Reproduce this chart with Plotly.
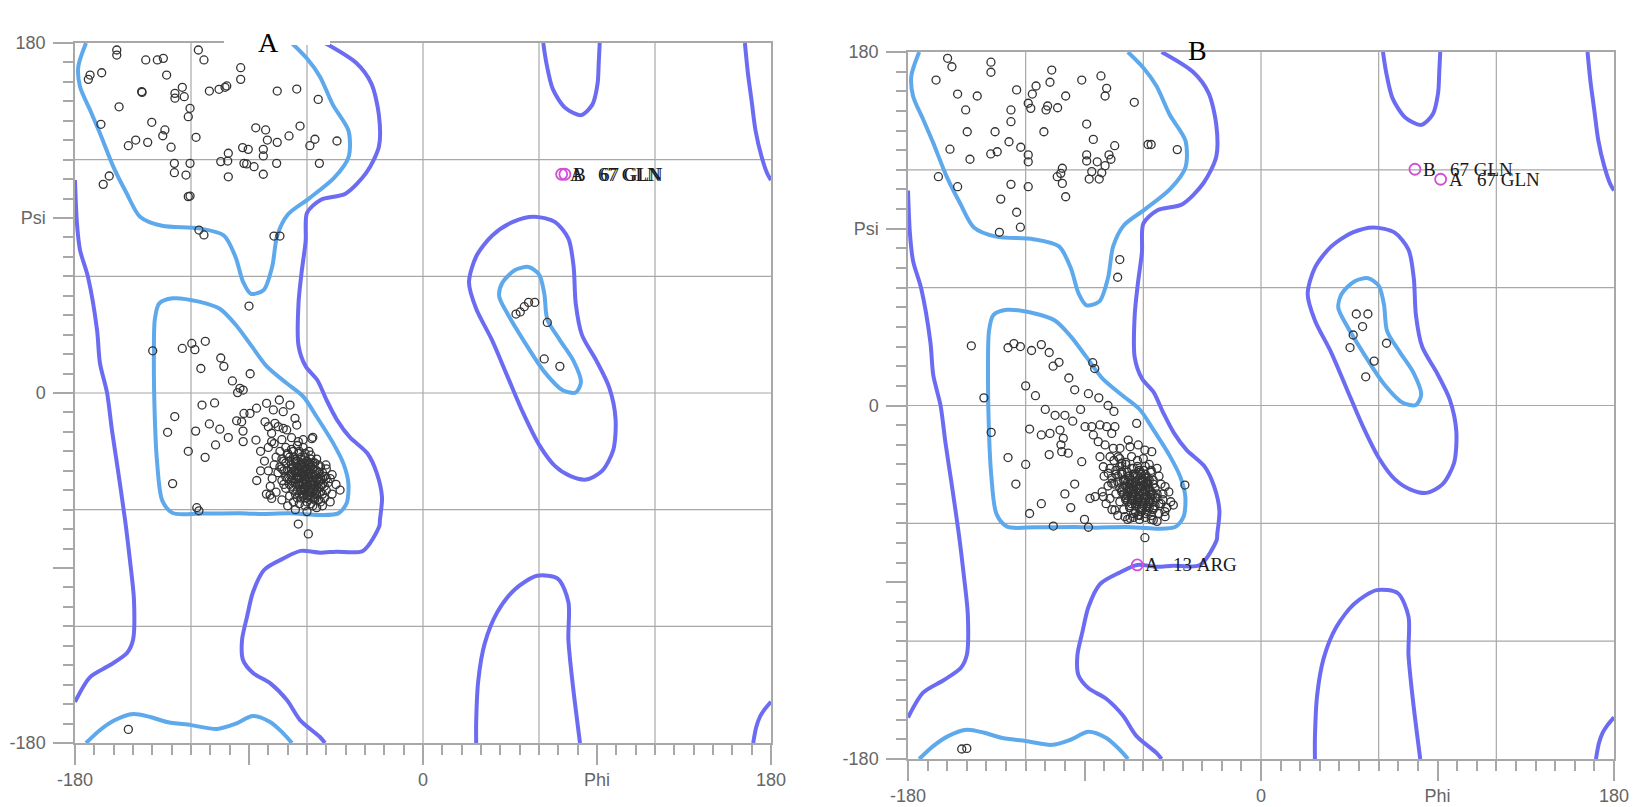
import plotly.graph_objects as go

# ---------------- contour data (phi, psi) ----------------
lb_beta_phi = [-174.3, -178.3, -177.4, -172.2, -167.1, -160.2, -153.3, -146.4, -135, -116, -103, -97, -93, -89, -82.4, -78, -75.4, -70, -59, -46, -38.5, -38.5, -46.6, -53.3, -60, -67.9]
lb_beta_psi = [180, 167.8, 157.5, 145.5, 133.6, 116.4, 102.7, 90.7, 86, 84.7, 81, 70, 57, 51, 53, 65, 81, 91.7, 100, 110.6, 121.3, 134.8, 148.2, 162.7, 172, 180]

lb_bot_phi = [-174.3, -167, -159.3, -150, -141.2, -132.4, -120, -106.6, -97.2, -88, -79.1, -72.4, -67.8]
lb_bot_psi = [-180, -173.3, -168.2, -165.1, -166.6, -169.2, -170.8, -172.8, -170.2, -166.1, -169.2, -174.9, -180]

lb_alpha_phi = [-136.5, -129.5, -115.9, -105.1, -97, -88.9, -80.8, -70.5, -61.9, -55, -46.4, -41.2, -38.6, -39.5, -43.8, -53.3, -68.8, -84.3, -94.7, -115, -129.5, -134.9, -137.6, -138.7, -139.2, -138.7, -136.5]
lb_alpha_psi = [46, 48.7, 47, 43.3, 35.2, 24.5, 13.7, 5, -1.9, -12.2, -25.9, -36.2, -46.4, -56.7, -61.9, -62.7, -61.9, -62.2, -61.9, -62, -61.7, -55.2, -34.8, -13.3, 19, 37.9, 46]

lb_left_phi = [41.1, 47.6, 54.6, 60, 62.7, 64.3, 70.8, 77.9, 81.7, 79, 72.5, 62.7, 51.9, 43.8, 39.4, 41.1]
lb_left_psi = [56.8, 63.2, 64.8, 61, 51.4, 37.9, 27.2, 16.4, 5.6, 0.3, 1.3, 11, 27.2, 40.6, 49.8, 56.8]

pu_leftedge_phi = [-180, -179, -177.4, -173.3, -168.6, -167.1, -163.4, -160.9, -157.8, -154.1, -151.6, -149.5, -150, -153.1, -161.9, -172.2, -180]
pu_leftedge_psi = [109.5, 87.4, 73.5, 59.7, 32.4, 15.4, 0, -19, -39.6, -65.3, -85.9, -106.5, -127, -133.7, -139.9, -146.1, -158.9]

pu_topright_phi = [166.5, 168, 170, 172, 175, 178, 180]
pu_topright_psi = [180, 165, 150, 135, 122, 113, 109.5]

pu_botright_phi = [180, 176.5, 174.3, 172.3, 170.8]
pu_botright_psi = [-158.8, -163, -166.5, -172, -180]

pu_main_phi = [-50.7, -34.6, -26.7, -22.8, -22.8, -29.3, -40.1, -53, -60, -60.7, -62.8, -64.4, -64.4, -60.7, -54.7, -49.9, -44.5, -38, -28.8, -23.9, -21.2, -22.3, -22.6, -31.1, -45, -53.2, -63.2, -72, -82.1, -88, -91, -93.6, -93.1, -87.9, -79.1, -70.4, -63.6, -53.3, -50.7]
pu_main_psi = [180, 169.8, 159.1, 142.9, 126.8, 113.3, 102.5, 99.3, 92.6, 78.2, 62, 46, 24.5, 13.7, 6.7, -3.6, -13.8, -22.6, -31, -41.2, -53.6, -65.4, -68.5, -81.2, -81.6, -82.1, -81.2, -85, -90.9, -102.6, -115, -127, -137.3, -144, -149.2, -157.9, -168.2, -176.9, -180]

pu_lalpha_phi = [27.5, 35.7, 46.5, 57.3, 68.2, 75.2, 77.9, 79, 82.2, 89.8, 96.3, 99.6, 98.4, 92.5, 84.4, 76.3, 68.2, 60.1, 51.9, 43.8, 35.7, 27.5, 23.8, 27.5]
pu_lalpha_psi = [70.2, 80.9, 88, 90.7, 88, 79.4, 64.9, 46, 29.9, 16.4, 2.9, -13.3, -29.4, -40.2, -44.5, -42.8, -37.5, -26.7, -10.5, 8.3, 27.2, 43.3, 56.8, 70.2]

pu_topu_phi = [62.2, 63.8, 67.1, 73.5, 81.7, 87.6, 90.3, 90.9, 91.4]
pu_topu_psi = [180, 169.8, 156.4, 146.7, 142.9, 148.3, 159.1, 169.8, 180]

pu_botloop_phi = [27.5, 27.5, 28.6, 31.9, 38.4, 47.6, 59, 69.8, 75.2, 75.2, 77.4, 81.2]
pu_botloop_psi = [-180, -169.3, -147.8, -128.9, -112.8, -100.9, -94, -95.6, -107.5, -126.8, -149.4, -180]

# ---------------- residues, panel A ----------------
a_phi = [-158.4, -158.4, -143.4, -137.4, -134.3, -116.2, -113.3, -94.3, -94.3, -173.1, -172.2, -166.2, -132.6, -145.5, -145.3, -128.3, -128.3, -124.5, -123.5, -110.5, -105.5, -102.4, -101.5, -75.4, -65.3, -54.2, -157.2, -120.5, -121.4, -166.6, -140.3, -133.5, -134.6, -152.4, -148.6, -142.4, -130.3, -117.4, -86.5, -81.4, -80.5, -75.4, -69.3, -63.6, -93.3, -90.4, -82.6, -82.6, -58.5, -55.9, -100.7, -104.6, -101, -128.6, -120.5, -92.6, -91.2, -87.4, -82.6, -75.7, -128.6, -122.6, -100.7, -162.3, -165.4, -121.4, -120.5, -53.6, -44.5, -115.9, -113.3, -77.1, -74, -90,
         -152.4,
         48.1, 50.3, 52.4, 54.6, 57.8, 64.3, 62.7, 70.8,
         -119.6, -112.6, -124.5, -118, -139.8, -104.6, -103, -114.9, -98.6, -89.4, -107.8, -114.3, -95.9, -92.6, -96.4, -86.1, -110.5, -105.1, -117.6, -128.4, -100.7, -93.1, -112.7, -107.3, -121.4, -129.5, -117, -115.9, -132.1,
         -80.9, -74.3, -68.8, -77.4, -72.3, -66.2, -81.7, -76.6, -80, -74.9, -72.3, -78.3, -70.5, -65.3, -89.5, -93.8, -93, -86.4, -78.3, -64.5, -57, -57.5, -93, -94.7, -79.1, -78.3, -50.2, -42.9, -64.5, -59.3,
         -74, -71, -68, -65, -62, -59, -76, -73, -70, -67, -64, -61, -58, -55, -77, -74, -71, -68, -65, -62, -59, -56, -53, -75, -72, -69, -66, -63, -60, -57, -54, -51, -73, -70, -67, -64, -61, -58, -55, -52, -49, -71, -68, -65, -62, -59, -56, -53, -50, -47, -69, -66, -63, -60, -57, -54, -51, -48, -64, -61, -58, -55, -52, -67, -45, -47, -78, -80, -79, -76, -73, -66, -60, -70, -63, -61, -65, -59, -62, -57, -68, -66, -56, -60, -64, -58, -69, -63, -72, -53, -50, -48, -82, -84, -80, -77, -73, -68, -62, -84, -86, -81,
         -70, -67, -64, -61, -58, -72, -69, -66, -63, -60, -57, -54, -73, -70, -67, -64, -61, -58, -55, -52, -71, -68, -65, -62, -59, -56, -53, -50, -69, -66, -63, -60, -57, -54, -51, -67, -64, -61, -58, -55, -52, -62, -59, -56, -65, -60, -57, -53, -68, -66, -62, -59, -64, -61, -57, -63, -60, -56,
         -65, -63, -61, -59, -57, -55, -66, -64, -62, -60, -58, -56, -65, -63, -61, -59, -57, -55, -64, -62, -60, -58, -56, -54, -63, -61, -59, -57, -55, -62, -60, -58, -56, -67, -65, -68, -53, -54, -66, -59]
a_psi = [176.4, 173.8, 171.3, 171.3, 172.1, 176.4, 171.3, 167.3, 161.3, 161.3, 163.5, 164.7, 163.5, 155, 154.6, 154.1, 151.6, 157.2, 152.4, 155.3, 156.2, 157.2, 157.9, 155.3, 156.3, 151, 147.2, 146.4, 142.1, 138.2, 139.2, 135.3, 132.3, 127.2, 130.1, 128.9, 126.4, 131.5, 136.4, 135.3, 130.1, 128.9, 132.2, 137.3, 126.2, 125.3, 125.3, 121.9, 127.2, 130.5, 123.3, 119, 119.3, 118.1, 118.1, 118.1, 117.8, 116.4, 112.5, 118.1, 113.3, 112.1, 111.2, 111.6, 107.3, 101, 101.3, 118.1, 129.6, 83.8, 81.3, 80.7, 80.7, 44.7,
         -173,
         40.6, 41.7, 44.4, 46.6, 46.6, 36.3, 17.5, 13.7,
         25.5, 26.6, 22.9, 22.3, 21.7, 18, 13.7, 12.6, 6.2, 9.9, -5.1, -6.2, 0.2, -10.5, -14.3, -7.8, -15.9, -18.6, -19.6, -12.1, -22.9, -19.6, -33.1, -26.7, -30, -46.6, -59, -60.6, -20.2,
         -5.3, -3.6, -6.2, -8.7, -9.6, -13, -14.8, -15.6, -17.3, -17.3, -18.2, -20.7, -19, -16.5, -10.5, -14.8, -25, -24.2, -25, -25, -22.8, -23.5, 1.5, 2.4, -52.5, -54.2, -37, -49.9, -67.4, -72.5,
         -30, -28, -29, -27, -28, -30, -33, -34, -32, -33, -31, -33, -32, -34, -37, -38, -36, -37, -35, -36, -37, -36, -38, -41, -40, -42, -40, -41, -40, -42, -41, -43, -45, -44, -46, -44, -45, -46, -45, -47, -46, -49, -48, -50, -49, -50, -49, -51, -50, -52, -53, -52, -54, -53, -54, -55, -54, -56, -57, -58, -57, -59, -58, -56, -47, -42, -44, -40, -48, -51, -55, -60, -61, -58, -39, -42, -43, -44, -47, -39, -39, -46, -52, -48, -52, -51, -35, -34, -47, -44, -39, -44, -35, -30, -28, -26, -24, -23, -24, -40, -45, -52,
         -31, -30, -30, -31, -34, -35, -33, -34, -33, -35, -36, -37, -39, -40, -38, -37, -39, -38, -40, -41, -43, -42, -41, -42, -43, -43, -43, -44, -47, -44, -46, -46, -47, -46, -48, -50, -48, -50, -49, -50, -52, -52, -53, -55, -54, -56, -58, -56, -45, -36, -38, -41, -43, -44, -45, -50, -51, -47,
         -38, -37, -38, -37, -39, -40, -41, -40, -41, -39, -41, -42, -44, -43, -44, -43, -45, -44, -47, -46, -48, -47, -48, -49, -50, -49, -51, -50, -52, -53, -54, -53, -54, -40, -47, -42, -48, -45, -35, -36]

a_hl_phi = [71.7, 73.4]
a_hl_psi = [112.5, 112.5]
a_hl_lab = ["A   67 GLN", "B   67 GLN"]

# ---------------- residues, panel B ----------------
b_phi = [-159.8, -157.6, -137.7, -137.7, -165.7, -154.7, -144.7, -150.6, -124.6, -127.5, -127.5, -114.7, -116.6, -118.7, -117.4, -106.7, -107.6, -99.6, -108.8, -109.6, -103.7, -91.4, -81.6, -78.7, -79.5, -64.6, -149.8, -135.6, -128.5, -122.5, -158.6, -148.4, -137.8, -134.5, -118.7, -118.7, -110.7, -88.9, -85.5, -74.6, -77.5, -76.5, -88.9, -88.9, -83.5, -79.5, -86.3, -81.2, -87.6, -82.5, -101.3, -102.1, -103.9, -101.3, -99.6, -164.5, -154.7, -127.5, -118.7, -132.7, -124.6, -57.6, -56, -42.7, -72, -73.1, -133.4, -122.7,
         -152.6, -150,
         48.6, 54.5, 51.8, 47, 45.4, 64, 57.7, 53.4,
         -147.7, -129, -126, -122.7, -117, -112, -108, -106, -103, -141.3, -137.6, -129, -85.8, -84.8, -82.7, -88, -78, -75, -120, -115, -110, -105, -118, -112, -100, -96, -92, -95, -98, -102, -108, -120, -125, -112, -118, -100, -95, -97, -90, -88,
         -107.6, -102.5, -100.8, -101.6, -98.3, -91.4, -89.7, -86.3, -82.1, -78.7, -74.5, -76.1, -85.5, -83, -79.5, -75.3, -71.9, -67.7, -63.4, -66.8, -62.6, -59.2, -55.7, -82.1, -77, -72.8, -71, -80.4, -77.9, -76.1, -87.2, -84.6, -80.4, -77, -74.5, -69.4, -66.8, -54.9, -48.9, -48.9, -44.7, -38.8, -105.9, -59.2, -62.6,
         -75, -72, -69, -66, -63, -60, -57, -77, -74, -71, -68, -65, -62, -59, -56, -53, -76, -73, -70, -67, -64, -61, -58, -55, -52, -78, -75, -72, -69, -66, -63, -60, -57, -54, -51, -74, -71, -68, -65, -62, -59, -56, -53, -50, -72, -69, -66, -63, -60, -57, -54, -51, -48, -70, -67, -64, -61, -58, -55, -52, -49, -65, -62, -59, -56, -53, -60, -64, -58, -67, -62, -55, -69, -61, -66, -58, -71, -50, -47, -46, -80, -81, -79, -76, -73, -68,
         -72, -69, -66, -63, -60, -74, -71, -68, -65, -62, -59, -56, -73, -70, -67, -64, -61, -58, -55, -71, -68, -65, -62, -59, -56, -53, -69, -66, -63, -60, -57, -54, -67, -64, -61, -58, -55, -52, -65, -62, -59, -56, -70, -64, -60, -57, -66, -63, -68, -61,
         -67, -65, -63, -61, -59, -57, -68, -66, -64, -62, -60, -58, -67, -65, -63, -61, -59, -57, -66, -64, -62, -60, -58, -56, -65, -63, -61, -59, -57, -64, -62, -60, -70, -55, -69, -58]
b_psi = [176.8, 172.5, 174.8, 169.7, 165.7, 158.6, 157.6, 150.5, 160.7, 150.5, 144.5, 162.7, 158.6, 153.9, 151.3, 170.8, 164.6, 157.6, 152.5, 150.5, 151.6, 165.7, 167.8, 161.5, 157.6, 154.4, 139.4, 139.4, 134.3, 131.5, 130.5, 125.4, 128.1, 129.2, 127.6, 124.1, 139.4, 143.3, 135.5, 132.3, 127.6, 125.4, 127.6, 124.5, 124.1, 122.1, 119.1, 118.5, 115.3, 115.3, 120.8, 118.2, 116.5, 113.1, 106.3, 116.5, 111.4, 112.6, 111.4, 105.1, 98.4, 132.9, 132.9, 130.3, 74.3, 65.3, 88.2, 90.8,
         -174.9, -174.6,
         46.6, 46.6, 40.2, 35.9, 29.5, 31.7, 22.6, 14.6,
         30.4, 29.4, 31.5, 30, 28, 31, 27, 20, 22, 3.9, -13.7, -26.5, 21.8, 18.8, 3.9, 6, 0, -3, 10, 5, -2, -5, -12, -15, -5, -8, -2, 8, 14, -20, -25, -30, -40, -50, -55, -45, -40, -52, -58, -62,
         -14.2, -12.5, -16.7, -23.5, -24.3, -28.6, -10.8, -10.8, -9.9, -10.8, -10.8, -14.2, -15, -18.4, -20.1, -21.8, -21.8, -17.6, -9.1, -21, -20.1, -22.7, -23.5, -26.1, -26.1, -26.1, -29.4, -31.2, -34.5, -39.6, -47.3, -46.4, -46.4, -47.3, -53.2, -56.6, -57.4, -58.3, -56.6, -41.3, -50.7, -40.5, -61.4, -67.3, -55.8,
         -28, -27, -29, -26, -28, -27, -30, -32, -33, -31, -34, -32, -33, -31, -34, -32, -37, -36, -38, -37, -36, -38, -37, -38, -36, -41, -40, -42, -41, -40, -42, -41, -43, -42, -40, -45, -44, -46, -45, -44, -46, -45, -47, -45, -49, -48, -50, -49, -50, -49, -51, -50, -52, -53, -52, -54, -53, -54, -53, -55, -54, -57, -58, -57, -58, -59, -44, -39, -40, -43, -47, -49, -38, -35, -48, -52, -35, -48, -44, -49, -36, -44, -50, -53, -56, -58,
         -31, -30, -32, -31, -33, -35, -34, -36, -35, -34, -35, -33, -39, -38, -40, -39, -38, -39, -40, -43, -44, -43, -42, -43, -44, -45, -47, -46, -48, -47, -48, -47, -51, -50, -52, -51, -52, -50, -55, -56, -55, -56, -45, -41, -38, -52, -43, -47, -49, -54,
         -36, -35, -36, -35, -37, -38, -39, -38, -39, -37, -39, -40, -42, -41, -42, -41, -43, -42, -45, -44, -46, -45, -46, -47, -48, -47, -49, -48, -50, -51, -52, -51, -42, -45, -47, -39]

b_hl_phi = [78.5, 91.6, -63.1]
b_hl_psi = [120.3, 115.2, -81.2]
b_hl_lab = ["B   67 GLN", "A   67 GLN", "A   13 ARG"]

# ---------------- styling ----------------
LB = "#5ea9ec"
PU = "#6c6cf3"
GRID = "#a8a8a8"
PT = "#333333"
PINK = "#d24fd6"

fig = go.Figure()

contours = [
    (lb_beta_phi, lb_beta_psi, LB), (lb_bot_phi, lb_bot_psi, LB), (lb_alpha_phi, lb_alpha_psi, LB),
    (lb_left_phi, lb_left_psi, LB),
    (pu_leftedge_phi, pu_leftedge_psi, PU), (pu_topright_phi, pu_topright_psi, PU),
    (pu_botright_phi, pu_botright_psi, PU), (pu_main_phi, pu_main_psi, PU),
    (pu_lalpha_phi, pu_lalpha_psi, PU), (pu_topu_phi, pu_topu_psi, PU), (pu_botloop_phi, pu_botloop_psi, PU),
]

panels = [("x", "y", a_phi, a_psi, a_hl_phi, a_hl_psi, a_hl_lab),
          ("x2", "y2", b_phi, b_psi, b_hl_phi, b_hl_psi, b_hl_lab)]

for xa, ya, pphi, ppsi, hphi, hpsi, hlab in panels:
    for cx, cy, col in contours:
        fig.add_trace(go.Scatter(x=cx, y=cy, mode="lines", xaxis=xa, yaxis=ya,
                                 line=dict(color=col, width=4, shape="spline", smoothing=0.8),
                                 hoverinfo="skip", showlegend=False))
    fig.add_trace(go.Scatter(x=pphi, y=ppsi, mode="markers", xaxis=xa, yaxis=ya,
                             marker=dict(symbol="circle-open", size=8, color=PT, line=dict(width=1.3)),
                             showlegend=False))
    fig.add_trace(go.Scatter(x=hphi, y=hpsi, mode="markers", xaxis=xa, yaxis=ya,
                             marker=dict(symbol="circle-open", size=11, color=PINK, line=dict(width=1.8)),
                             showlegend=False))
    for px, py, t in zip(hphi, hpsi, hlab):
        fig.add_annotation(x=px, y=py, xref=xa, yref=ya, text=t.replace(" ", "\u00a0"),
                           showarrow=False, xanchor="left", yanchor="middle", xshift=6,
                           font=dict(family="Liberation Serif", size=19, color="#1a1a1a"))
    # grid lines every 60 degrees
    for v in [-120, -60, 0, 60, 120]:
        fig.add_shape(type="line", x0=v, x1=v, y0=0, y1=1, xref=xa, yref=ya + " domain",
                      line=dict(color=GRID, width=1.2), layer="below")
        fig.add_shape(type="line", y0=v, y1=v, x0=0, x1=1, yref=ya, xref=xa + " domain",
                      line=dict(color=GRID, width=1.2), layer="below")

axis_common = dict(range=[-180, 180], showgrid=False, zeroline=False, showline=True, automargin=False,
                   linecolor=GRID, linewidth=1.5, mirror=True, ticks="outside", ticklen=20,
                   tickcolor=GRID, tickwidth=1.5,
                   tickfont=dict(family="Liberation Sans", size=18, color="#666666"),
                   minor=dict(dtick=10, tick0=0, ticklen=10, tickcolor=GRID, tickwidth=1.5,
                              ticks="outside", showgrid=False))
xt = dict(tickvals=[-180, -90, 0, 90, 180], ticktext=["-180", "", "0", "Phi", "180"], ticklabelstandoff=0)
yt = dict(tickvals=[-180, -90, 0, 90, 180], ticktext=["-180", "", "0", "Psi", "180"], ticklabelstandoff=4)

W, H = 1641, 807
fig.update_layout(
    width=W, height=H, margin=dict(l=0, r=0, t=0, b=0, autoexpand=False),
    paper_bgcolor="white", plot_bgcolor="white",
    xaxis=dict(domain=[75 / W, 771 / W], anchor="y", **axis_common, **xt),
    yaxis=dict(domain=[1 - 743 / H, 1 - 43 / H], anchor="x", **axis_common, **yt),
    xaxis2=dict(domain=[908 / W, 1614 / W], anchor="y2", **axis_common, **xt),
    yaxis2=dict(domain=[1 - 759 / H, 1 - 52 / H], anchor="x2", **axis_common, **yt),
)

# white label box of panel A hides part of its top frame
fig.add_shape(type="rect", xref="paper", yref="paper", x0=224 / W, x1=330 / W, y0=1 - 45 / H, y1=1.0,
              fillcolor="white", line=dict(width=0), layer="above")
fig.add_annotation(x=256 / W, y=1 - 25 / H, xref="paper", yref="paper", text="A", showarrow=False,
                   font=dict(family="Liberation Serif", size=28, color="black"))
fig.add_annotation(x=1209 / W, y=1 - 33 / H, xref="paper", yref="paper", text="B", showarrow=False,
                   font=dict(family="Liberation Serif", size=28, color="black"))

fig.write_html("out.html", config={"displayModeBar": False},
               post_script="document.body.style.margin='0px';document.body.style.overflow='hidden';")
